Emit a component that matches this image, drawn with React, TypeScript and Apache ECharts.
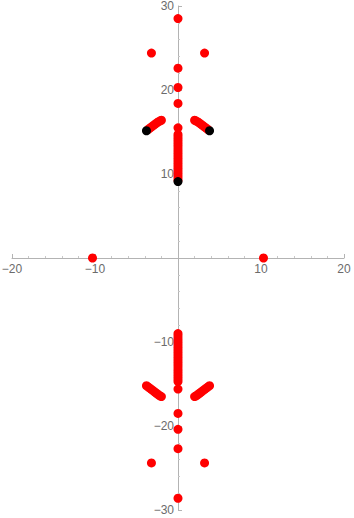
import React, { useEffect, useRef } from "react";
import * as echarts from "echarts";

// Red points: [x, y]
const axisPoints: number[][] = [[-10.3, 0], [10.3, 0]];
const upperSpine: number[][] = [
  [0, 28.5], [0, 22.6], [0, 20.3], [0, 18.4], [0, 15.5],
  [0, 14.7], [0, 14.4], [0, 14.1], [0, 13.8], [0, 13.5], [0, 13.2], [0, 12.9],
  [0, 12.6], [0, 12.3], [0, 12.0], [0, 11.7], [0, 11.4], [0, 11.1], [0, 10.8],
  [0, 10.5], [0, 10.2], [0, 9.9], [0, 9.6], [0, 9.3],
];
const lowerSpine: number[][] = [
  [0, -28.6], [0, -22.7], [0, -20.4], [0, -18.5], [0, -15.6],
  [0, -14.7], [0, -14.4], [0, -14.1], [0, -13.8], [0, -13.5], [0, -13.2], [0, -12.9],
  [0, -12.6], [0, -12.3], [0, -12.0], [0, -11.7], [0, -11.4], [0, -11.1], [0, -10.8],
  [0, -10.5], [0, -10.2], [0, -9.9], [0, -9.6], [0, -9.3], [0, -9.0],
];
const sidePoints: number[][] = [[-3.2, 24.4], [3.2, 24.4], [-3.2, -24.4], [3.2, -24.4]];
const upperArms: number[][] = [
  [-3.6, 15.3], [-3.4, 15.45], [-3.2, 15.6], [-3.0, 15.75], [-2.8, 15.9],
  [-2.6, 16.05], [-2.4, 16.2], [-2.2, 16.3], [-2.0, 16.4],
  [3.6, 15.3], [3.4, 15.45], [3.2, 15.6], [3.0, 15.75], [2.8, 15.9],
  [2.6, 16.05], [2.4, 16.2], [2.2, 16.3], [2.0, 16.4],
];
const lowerArms: number[][] = [
  [-3.8, -15.2], [-3.6, -15.35], [-3.4, -15.5], [-3.2, -15.65], [-3.0, -15.8], [-2.8, -15.95],
  [-2.6, -16.1], [-2.4, -16.25], [-2.2, -16.4], [-2.0, -16.5],
  [3.8, -15.2], [3.6, -15.35], [3.4, -15.5], [3.2, -15.65], [3.0, -15.8], [2.8, -15.95],
  [2.6, -16.1], [2.4, -16.25], [2.2, -16.4], [2.0, -16.5],
];
// Black points
const blackPoints: number[][] = [[0, 9.1], [-3.8, 15.15], [3.8, 15.15]];

const redPoints = [
  ...axisPoints, ...upperSpine, ...lowerSpine, ...sidePoints, ...upperArms, ...lowerArms,
];

const fmt = (v: number) => (v === 0 ? "" : String(v).replace("-", "\u2212"));

const W = 354;
const H = 518;
const GRID = { left: 12, right: 10, top: 6, bottom: 8 };

export default function App() {
  const ref = useRef<HTMLDivElement>(null);
  useEffect(() => {
    if (!ref.current) return;
    const chart = echarts.init(ref.current, undefined, { renderer: "svg" });
    const plotW = W - GRID.left - GRID.right;
    const plotH = H - GRID.top - GRID.bottom;
    const axisCommon = {
      type: "value" as const,
      interval: 10,
      axisLine: { onZero: false, lineStyle: { color: "#b3b3b3", width: 1 } },
      axisTick: { show: true, inside: true, length: 4, lineStyle: { color: "#b3b3b3" } },
      minorTick: { show: true, splitNumber: 5, length: 2, lineStyle: { color: "#c8c8c8" } },
      splitLine: { show: false },
      minorSplitLine: { show: false },
      axisLabel: {
        color: "#6b6b6b",
        fontSize: 12,
        fontFamily: "Liberation Sans, Arial, sans-serif",
        formatter: fmt,
        showMinLabel: true,
        showMaxLabel: true,
      },
    };
    chart.setOption({
      animation: false,
      backgroundColor: "#ffffff",
      grid: { ...GRID, containLabel: false, outerBoundsMode: "none" },
      xAxis: {
        ...axisCommon,
        position: "bottom",
        offset: -plotH / 2,
        min: -20,
        max: 20,
        axisLabel: { ...axisCommon.axisLabel, margin: 5 },
      },
      yAxis: {
        ...axisCommon,
        position: "left",
        offset: -plotW / 2,
        min: -30,
        max: 30,
        axisLabel: { ...axisCommon.axisLabel, margin: 4 },
      },
      series: [
        {
          type: "scatter",
          data: redPoints,
          symbolSize: 9,
          itemStyle: { color: "#ff0000", opacity: 1 },
          z: 2,
        },
        {
          type: "scatter",
          data: blackPoints,
          symbolSize: 9,
          itemStyle: { color: "#000000", opacity: 1 },
          z: 3,
        },
      ],
    });
    return () => chart.dispose();
  }, []);
  return (
    <div
      ref={ref}
      style={{ position: "fixed", left: 0, top: 0, width: W, height: H }}
    />
  );
}
